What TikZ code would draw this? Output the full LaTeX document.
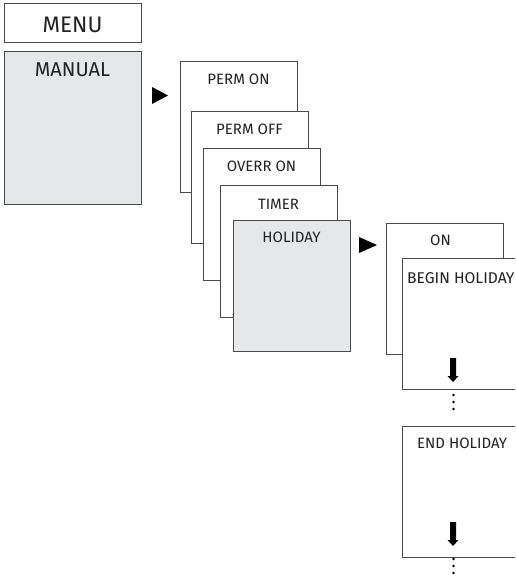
\documentclass[tikz,border=0pt]{standalone}
\usepackage{fontspec}
\setmainfont{Fira Sans}
\usetikzlibrary{calc}
\definecolor{boxline}{HTML}{4A4A4A}
\definecolor{boxfill}{HTML}{E6E7E8}
\definecolor{txt}{HTML}{222222}
\tikzset{
  screen/.style={draw=boxline, line width=1pt, fill=white, anchor=north west,
    minimum width=117pt, minimum height=131pt, inner sep=0pt, outer sep=0pt},
  active/.style={screen, fill=boxfill},
  lbl/.style={anchor=base, text=txt, inner sep=0pt, font=\fontsize{15}{15}\selectfont},
  lblleft/.style={lbl, anchor=base west},
  pointer/.style={fill=black},
  dotmark/.style={fill=black},
}
\begin{document}
\begin{tikzpicture}[x=1pt,y=-1pt]
\useasboundingbox (0,0) rectangle (515,577);
\clip (0,0) rectangle (515,577);
% MENU column
\node[screen, minimum width=137pt, minimum height=39pt] (menu) at (4,4) {};
\node[lbl, font=\fontsize{22.5}{22.5}\selectfont] at ($(menu.north)+(0,28.5)$) {MENU};
\node[active, minimum width=137pt, minimum height=152pt] (manual) at (4,52) {};
\node[lbl, font=\fontsize{20}{20}\selectfont] at ($(manual.north)+(0,25)$) {MANUAL};
% pointer 1
\coordinate (p1) at (152,87);
\fill[pointer] (p1) -- ++(16,8.5) -- ++(-16,8.5) -- cycle;
% stack
\node[screen] (permon) at (180,62) {};
\node[lbl] at ($(permon.north)+(0,23)$) {PERM ON};
\node[screen] (permoff) at (191,112) {};
\node[lbl] at ($(permoff.north)+(0,23)$) {PERM OFF};
\node[screen] (overr) at (203,149) {};
\node[lbl] at ($(overr.north)+(0,23)$) {OVERR ON};
\node[screen] (timer) at (220,186) {};
\node[lbl] at ($(timer.north)+(0,23)$) {TIMER};
\node[active] (holiday) at (233,220) {};
\node[lbl] at ($(holiday.north)+(0,22)$) {HOLIDAY};
% pointer 2
\coordinate (p2) at (359,237);
\fill[pointer] (p2) -- ++(18,8) -- ++(-18,8) -- cycle;
% holiday submenu
\node[screen] (on) at (386,223) {};
\node[lbl] at ($(on.north)+(-4,22)$) {ON};
\node[screen] (begin) at (402,258) {};
\node[lblleft, font=\fontsize{15.6}{15.6}\selectfont] at ($(begin.north west)+(5,25)$) {BEGIN HOLIDAY};
\node[screen] (endh) at (402,426) {};
\node[lblleft] at ($(endh.north west)+(15,22)$) {END HOLIDAY};
% down arrows
\foreach \t in {358, 522}{
  \fill[pointer] (450,\t) -- (456,\t) -- (456,\t+18) -- (458.5,\t+18) -- (453,\t+24)
     -- (447.5,\t+18) -- (450,\t+18) -- cycle;
}
% dots
\foreach \y in {395,402,409,559,566,573}{
  \fill[dotmark] (453.5,\y) circle (1.4pt);
}
\end{tikzpicture}
\end{document}
